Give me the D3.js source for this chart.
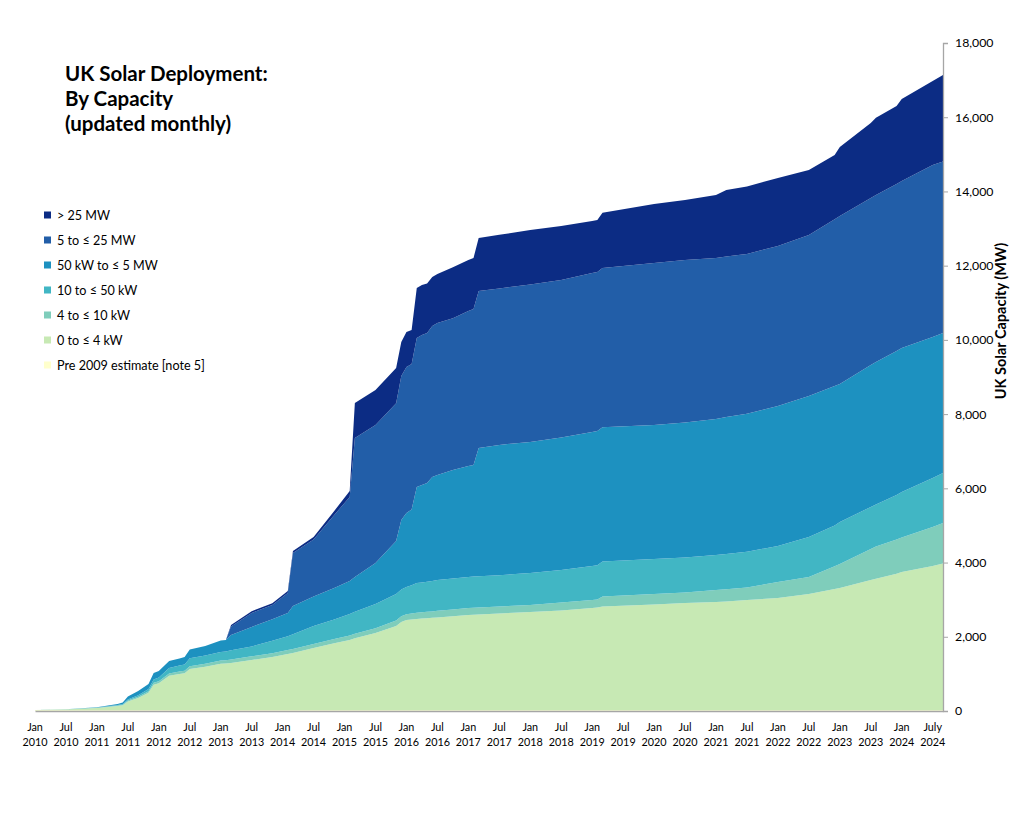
<!DOCTYPE html>
<html><head><meta charset="utf-8">
<script src="https://cdn.jsdelivr.net/npm/d3@7"></script>
<style>
body{margin:0;background:#fff}
svg text{font-family:Lato,"Open Sans",sans-serif;fill:#000}
</style>
</head><body>
<svg id="chart" width="1024" height="831"></svg>
<script>
// ---- data (MW) ----
const dates = ["2010-01","2010-07","2011-01","2011-05","2011-06","2011-07","2011-09","2011-11","2011-12","2012-01",
"2012-03","2012-05","2012-06","2012-07","2012-10","2013-01","2013-02","2013-03","2013-07","2013-11",
"2014-02","2014-03","2014-07","2014-11","2015-02","2015-03","2015-07","2015-11","2015-12","2016-01",
"2016-02","2016-03","2016-04","2016-05","2016-06","2016-07","2016-10","2017-01","2017-02","2017-03",
"2017-07","2018-01","2018-07","2019-01","2019-02","2019-03","2020-01","2020-07","2021-01","2021-03",
"2021-07","2022-01","2022-07","2022-12","2023-01","2023-07","2023-08","2023-12","2024-01","2024-07","2024-09"];

const pre2009 = [20,20,20,20,20,20,20,20,20,20, 20,20,20,20,20,20,20,20,20,20, 20,20,20,20,20,20,20,20,20,20,
20,20,20,20,20,20,20,20,20,20, 20,20,20,20,20,20,20,20,20,20, 20,20,20,20,20,20,20,20,20,20,20];
const kw0to4 = [5,22,62,115,135,236,330,470,690,730, 930,980,1000,1115,1175,1250,1258,1275,1355,1435,
1516,1543,1680,1805,1893,1940,2082,2271,2379,2432, 2446,2460,2470,2480,2490,2500,2535,2567,2575,2580,
2608,2648,2688,2756,2770,2796,2850,2891,2918,2930, 2970,3025,3133,3270,3295,3510,3545,3680,3726,3888,3955];
const kw4to10 = [0,2,6,10,12,25,32,40,50,54, 60,63,65,70,78,88,90,92,97,102,
106,107,107,118,120,122,130,145,155,158, 160,170,172,172,174,180,183,189,190,190,
190,189,216,215,215,270,283,283,323,330, 340,432,458,610,647,836,865,920,930,1051,1092];
const kw10to50 = [1,3,9,18,22,30,45,60,90,100, 150,160,165,215,225,235,238,253,266,333,
372,395,486,523,581,592,652,717,720,732, 760,800,803,808,816,831,832,835,836,838,
840,862,876,917,920,943,943,943,945,948, 960,970,1078,1100,1132,1132,1135,1200,1226,1320,1347];
const kw50to5mw = [0,1,6,26,40,80,112,138,174,174, 188,195,205,237,254,307,307,408,526,583,
627,765,789,849,890,937,1105,1429,1874,1994, 2045,2587,2626,2665,2806,2829,2925,2992,3009,3460,
3513,3531,3571,3611,3621,3620,3612,3638,3664,3692, 3720,3773,3800,3760,3719,3827,3840,3880,3881,3801,3773];
const mw5to25 = [0,0,0,0,0,0,0,0,0,0, 0,0,0,0,0,0,0,229,377,384,
539,1428,1542,1967,2263,3746,3719,3710,3880,3935, 3921,4015,4042,4042,4070,4097,4088,4177,4204,4231,
4217,4244,4244,4285,4285,4285,4366,4379,4338,4330, 4306,4312,4339,4490,4527,4501,4500,4500,4501,4635,4623];
const mwOver25 = [0,0,0,0,0,0,0,0,0,0, 0,0,0,0,0,0,0,41,46,48,
54,54,67,108,162,944,943,952,917,943, 916,1348,1348,1334,1320,1320,1375,1374,1374,1428,
1442,1468,1456,1402,1401,1495,1590,1617,1698,1790, 1820,1832,1752,1734,1860,2021,2082,2105,2209,2264,2330];

const seriesNames = ["Pre 2009 estimate [note 5]","0 to \u2264 4 kW","4 to \u2264 10 kW","10 to \u2264 50 kW","50 kW to \u2264 5 MW","5 to \u2264 25 MW","> 25 MW"];
const seriesColors = ["#ffffcc","#c7e9b4","#7fcdbb","#41b6c4","#1d91c0","#225ea8","#0c2c84"];
const seriesValues = [pre2009,kw0to4,kw4to10,kw10to50,kw50to5mw,mw5to25,mwOver25];

const yTicks = [0,2000,4000,6000,8000,10000,12000,14000,16000,18000];
const xTickDates = ["2010-01","2010-07","2011-01","2011-07","2012-01","2012-07","2013-01","2013-07","2014-01","2014-07",
"2015-01","2015-07","2016-01","2016-07","2017-01","2017-07","2018-01","2018-07","2019-01","2019-07",
"2020-01","2020-07","2021-01","2021-07","2022-01","2022-07","2023-01","2023-07","2024-01","2024-07"];
const xTickMonth = ["Jan","Jul","Jan","Jul","Jan","Jul","Jan","Jul","Jan","Jul","Jan","Jul","Jan","Jul","Jan","Jul",
"Jan","Jul","Jan","Jul","Jan","Jul","Jan","Jul","Jan","Jul","Jan","Jul","Jan","July"];
const xTickYear = ["2010","2010","2011","2011","2012","2012","2013","2013","2014","2014","2015","2015","2016","2016",
"2017","2017","2018","2018","2019","2019","2020","2020","2021","2021","2022","2022","2023","2023","2024","2024"];
const titleLines = ["UK Solar Deployment:","By Capacity","(updated monthly)"];
const yTitle = "UK Solar Capacity (MW)";

// ---- build ----
const monthIndex = s => { const [y,m] = s.split("-").map(Number); return (y-2010)*12 + (m-1); };
const rows = dates.map((d,i) => {
  const r = {m: monthIndex(d)};
  seriesNames.forEach((n,k) => r[n] = seriesValues[k][i]);
  return r;
});

const svg = d3.select("#chart");
const x = d3.scaleLinear().domain([0, monthIndex("2024-09")]).range([35, 943]);
const y = d3.scaleLinear().domain([0, 18000]).range([711, 43]);

const stack = d3.stack().keys(seriesNames);
const layers = stack(rows);
const area = d3.area().x(d => x(d.data.m)).y0(d => y(d[0])).y1(d => y(d[1]));

svg.append("g").selectAll("path").data(layers).join("path")
  .attr("d", area)
  .attr("fill", (d,i) => seriesColors[i]);

// right axis
const yAxis = d3.axisRight(y).tickValues(yTicks).tickFormat(d3.format(",")).tickSize(5).tickPadding(7);
const gy = svg.append("g").attr("transform","translate(943,0)").call(yAxis);
gy.select(".domain").attr("stroke","#a6a6a6").attr("stroke-width",1.3);
gy.selectAll(".tick line").attr("stroke","#a6a6a6");
gy.selectAll(".tick text").attr("font-size","12.3px").attr("font-family","Lato").attr("fill","#000");

// bottom axis line
const xAxis = d3.axisBottom(x).tickValues([]).tickSize(0);
const gx = svg.append("g").attr("transform","translate(0,711)").call(xAxis);
gx.select(".domain").attr("stroke","#a6a6a6").attr("stroke-width",1.3);

const xl = svg.append("g");
xTickDates.forEach((d,i) => {
  const t = xl.append("text").attr("text-anchor","middle").attr("font-size","10.8px");
  t.append("tspan").attr("x", x(monthIndex(d))).attr("y", 731).text(xTickMonth[i]);
  t.append("tspan").attr("x", x(monthIndex(d))).attr("y", 746).text(xTickYear[i]);
});

// y title
svg.append("text").attr("transform","translate(1006,321) rotate(-90)")
  .attr("text-anchor","middle").attr("font-size","14.5px").attr("font-weight","bold").text(yTitle);

// title
const tt = svg.append("text").attr("font-size","20.5px").attr("font-weight","bold");
titleLines.forEach((l,i) => tt.append("tspan").attr("x",65).attr("y",81 + i*25).text(l));

// legend (top to bottom: > 25 MW first)
const legendOrder = d3.range(seriesNames.length).reverse();
const lg = svg.append("g");
legendOrder.forEach((k,i) => {
  const yy = 215 + i*25;
  lg.append("rect").attr("x",44).attr("y",yy-3.5).attr("width",7).attr("height",7).attr("fill",seriesColors[k]);
  lg.append("text").attr("x",57).attr("y",yy+4.5).attr("font-size","12.6px").text(seriesNames[k]);
});
</script>
</body></html>
